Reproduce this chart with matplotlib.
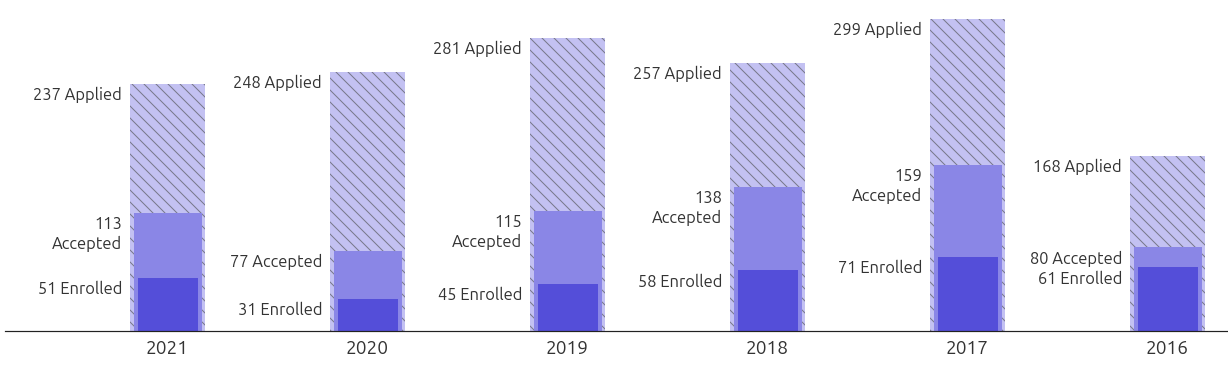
import matplotlib.pyplot as plt

years = ['2021', '2020', '2019', '2018', '2017', '2016', '2015']
applied = [237, 248, 281, 257, 299, 168, 190]
accepted = [113, 77, 115, 138, 159, 80, 95]
enrolled = [51, 31, 45, 58, 71, 61, 80]

plt.rcParams['font.family'] = ['Ubuntu', 'Open Sans', 'DejaVu Sans']
plt.rcParams['hatch.linewidth'] = 1.0

text_color = '#333333'

# dpi 72 so 1pt == 1px
fig = plt.figure(figsize=(1228 / 72, 373 / 72), dpi=72)
ax = fig.add_axes([5 / 1228, 42 / 373, 1223 / 1228, 331 / 373])

x = list(range(len(years)))
ax.bar(x, applied, width=0.375, color='#c3c1f2', edgecolor='#77778a',
       linewidth=0, hatch='\\\\')
ax.bar(x, accepted, width=0.34, color='#8a86e6', linewidth=0)
ax.bar(x, enrolled, width=0.30, color='#544ed9', linewidth=0)

fs = 16.5
for i in x:
    lx = i - 0.375 / 2 - 0.04
    ax.annotate(f'{applied[i]} Applied', (lx, applied[i]), xytext=(0, -3),
                textcoords='offset points', ha='right', va='top',
                fontsize=fs, color=text_color, annotation_clip=False)
    if accepted[i] >= 100:
        acc_label = f'{accepted[i]}\nAccepted'
    else:
        acc_label = f'{accepted[i]} Accepted'
    ax.annotate(acc_label, (lx, accepted[i]), xytext=(0, -3),
                textcoords='offset points', ha='right', va='top',
                fontsize=fs, color=text_color, linespacing=1.25,
                annotation_clip=False)
    ax.annotate(f'{enrolled[i]} Enrolled', (lx, enrolled[i]), xytext=(0, -3),
                textcoords='offset points', ha='right', va='top',
                fontsize=fs, color=text_color, annotation_clip=False)

ax.set_xlim(-0.8125, 5.3025)
ax.set_ylim(0, 317)
ax.set_xticks(x[:6])
ax.set_xticklabels(years[:6], fontsize=19, color=text_color)
ax.tick_params(axis='x', length=0, pad=8)
ax.set_yticks([])
for side in ['top', 'right', 'left']:
    ax.spines[side].set_visible(False)
ax.spines['bottom'].set_color('#222222')
ax.spines['bottom'].set_linewidth(1.2)

fig.savefig('out.png', dpi=72)
